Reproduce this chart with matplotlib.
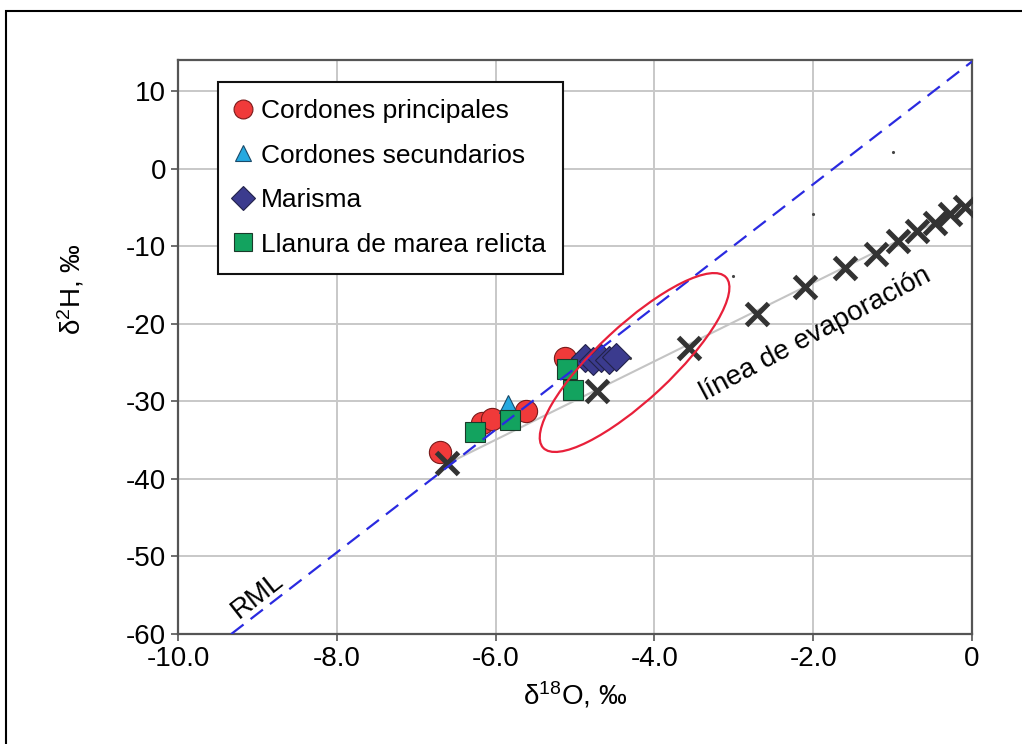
import matplotlib
matplotlib.use('Agg')
import matplotlib.pyplot as plt
from matplotlib.patches import Ellipse, Rectangle
from matplotlib.transforms import ScaledTranslation

plt.rcParams['font.family'] = ['Liberation Sans', 'DejaVu Sans']
plt.rcParams['mathtext.fontset'] = 'custom'
plt.rcParams['mathtext.rm'] = 'Liberation Sans'
plt.rcParams['mathtext.default'] = 'regular'
plt.rcParams['axes.unicode_minus'] = False

# sample groups (d18O, d2H)
princ_x = [-6.70, -6.17, -6.05, -5.62, -5.13]
princ_y = [-36.5, -32.8, -32.3, -31.3, -24.4]
secund_x = [-5.84]
secund_y = [-30.4]
marisma_x = [-4.87, -4.77, -4.67, -4.57, -4.48]
marisma_y = [-24.4, -24.8, -24.4, -24.7, -24.3]
llanura_x = [-6.26, -5.82, -5.10, -5.03]
llanura_y = [-34.0, -32.4, -25.9, -28.5]

# evaporation series (crosses)
evap_x = [-6.61, -4.72, -3.56, -2.71, -2.10, -1.60, -1.21, -0.93, -0.69, -0.47, -0.28, -0.09]
evap_y = [-37.9, -28.7, -23.1, -18.7, -15.3, -12.8, -11.0, -9.4, -8.1, -7.0, -5.9, -5.0]

# stray small points
dots_x = [-4.31, -3.01, -2.00, -0.99]
dots_y = [-24.4, -13.9, -5.9, 2.1]

# reference lines
rml_x = [-9.33, 0.0]
rml_y = [-60.0, 13.8]
evap_line_x = [-6.6, 0.0]
evap_line_y = [-38.0, -4.6]

# ellipse around the group (centre in data, size in pixels)
ell_cx, ell_cy = -4.25, -25.0
ell_w_px, ell_h_px, ell_angle = 250, 74, 43

fig = plt.figure(figsize=(10.22, 7.44), dpi=100)
ax = fig.add_axes([0.1742, 0.1478, 0.7769, 0.7716])

ax.plot(evap_line_x, evap_line_y, color='#c4c4c4', lw=1.5, zorder=2)
ax.plot(rml_x, rml_y, color='#2a2ae0', lw=1.6, dashes=(7, 4), zorder=6)

ax.plot(princ_x, princ_y, 'o', ms=16, mfc='#f03a3a', mec='#7a1a1a', mew=0.8,
        ls='none', label='Cordones principales', zorder=3)
ax.plot(secund_x, secund_y, '^', ms=13, mfc='#25a9e0', mec='#1a4a6a', mew=0.8,
        ls='none', label='Cordones secundarios', zorder=3)
ax.plot(marisma_x, marisma_y, 'D', ms=14, mfc='#3b3b8e', mec='#22224a', mew=0.8,
        ls='none', label='Marisma', zorder=3)
ax.plot(llanura_x, llanura_y, 's', ms=15, mfc='#13a35f', mec='#1a3a2a', mew=0.8,
        ls='none', label='Llanura de marea relicta', zorder=4)
ax.plot(evap_x, evap_y, 'x', ms=16, mec='#333333', mew=3.6, ls='none', zorder=5)
ax.plot(dots_x, dots_y, '.', ms=2.5, color='#444444', ls='none', zorder=2)

ell = Ellipse((0, 0), width=ell_w_px / 100, height=ell_h_px / 100, angle=ell_angle,
              fill=False, ec='#e8203a', lw=1.6, zorder=7,
              transform=fig.dpi_scale_trans + ScaledTranslation(ell_cx, ell_cy, ax.transData))
ax.add_patch(ell)

ax.text(-9.0, -55.0, 'RML', fontsize=20, rotation=38, ha='center', va='center')
ax.text(-1.97, -21.3, 'línea de evaporación', fontsize=20, rotation=28,
        ha='center', va='center')

ax.set_xlim(-10, 0)
ax.set_ylim(-60, 14)
ax.set_xticks([-10, -8, -6, -4, -2, 0])
ax.set_xticklabels(['-10.0', '-8.0', '-6.0', '-4.0', '-2.0', '0'])
ax.set_yticks([-60, -50, -40, -30, -20, -10, 0, 10])
ax.tick_params(labelsize=20, direction='out', length=5, width=1.2, color='#555555')
ax.grid(True, color='#c8c8c8', lw=1.4)
ax.set_axisbelow(True)
for s in ax.spines.values():
    s.set_color('#555555')
    s.set_linewidth(1.6)

ax.set_xlabel('δ$^{18}$O, ‰', fontsize=20, labelpad=6)
ax.set_ylabel('δ$^{2}$H, ‰', fontsize=20)
ax.yaxis.set_label_coords(-0.115, 0.60)

leg = ax.legend(loc='upper left', bbox_to_anchor=(0.05, 0.962), borderaxespad=0,
                fontsize=19, markerscale=0.85, handlelength=0.6, handletextpad=0.4,
                labelspacing=0.78, borderpad=0.65, fancybox=False, framealpha=1)
leg.get_frame().set_edgecolor('#111111')
leg.get_frame().set_linewidth(1.5)

fig.patches.append(Rectangle((0.006, -0.1), 1.2, 1.085, transform=fig.transFigure,
                             fill=False, ec='black', lw=1.5, figure=fig))

fig.savefig('out.png', dpi=100)
